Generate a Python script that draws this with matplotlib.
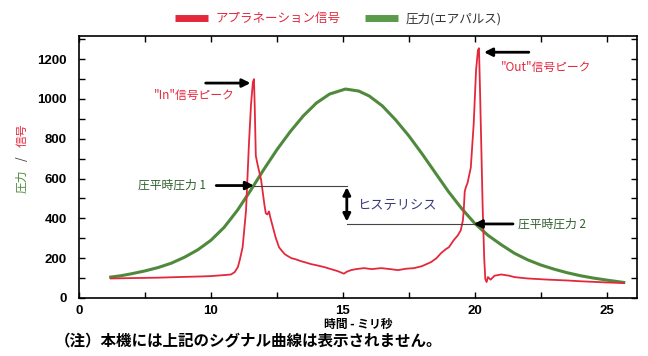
import matplotlib
matplotlib.use("Agg")
import matplotlib.pyplot as plt
from matplotlib.lines import Line2D
from matplotlib.ticker import MultipleLocator

plt.rcParams['font.family'] = ['Noto Sans CJK JP', 'DejaVu Sans']

# 圧力(エアパルス)
t_press = [6.2, 6.6, 7.0, 7.5, 8.0, 8.5, 9.0, 9.5, 10.0, 10.5, 11.0, 11.5, 12.0, 12.5,
           13.0, 13.5, 14.0, 14.5, 15.1, 15.6, 16.0, 16.5, 17.0, 17.5, 18.0, 18.5,
           19.0, 19.5, 20.0, 20.5, 21.0, 21.5, 22.0, 22.5, 23.0, 23.5, 24.0, 24.5,
           25.0, 25.65]
press = [105, 112, 122, 136, 153, 175, 205, 242, 290, 355, 440, 540, 645, 745,
         835, 915, 980, 1025, 1050, 1040, 1015, 965, 895, 815, 725, 630,
         535, 450, 375, 315, 268, 225, 192, 166, 145, 127, 112, 100,
         90, 78]

# アプラネーション信号
t_sig = [6.2, 7.0, 8.0, 9.0, 9.6, 10.0, 10.5, 10.76, 10.9, 11.02, 11.1, 11.2, 11.33,
         11.44, 11.52, 11.59, 11.63, 11.66, 11.7, 11.76, 11.82, 11.9, 11.97, 12.03,
         12.08, 12.14, 12.2, 12.25, 12.35, 12.45, 12.58, 12.7, 12.8, 12.92, 13.05,
         13.2, 13.41, 13.6, 13.8, 14.05, 14.3, 14.55, 14.8, 14.93, 15.04, 15.15,
         15.31, 15.5, 15.8, 16.1, 16.45, 16.8, 17.09, 17.4, 17.7, 18.0, 18.34,
         18.55, 18.72, 18.9, 19.02, 19.2, 19.36, 19.47, 19.55, 19.58, 19.62, 19.66,
         19.73, 19.85, 19.96, 20.05, 20.12, 20.16, 20.2, 20.3, 20.36, 20.4, 20.45,
         20.5, 20.6, 20.75, 21.0, 21.3, 21.5, 22.0, 22.8, 23.5, 24.0, 25.0, 25.65]
sig = [98, 100, 102, 106, 108, 110, 115, 118, 130, 155, 195, 255, 440,
       775, 975, 1085, 1100, 960, 715, 675, 640, 595, 525, 465,
       425, 420, 435, 405, 355, 305, 255, 235, 220, 210, 200,
       195, 185, 178, 170, 163, 155, 145, 135, 128, 122, 132,
       140, 145, 150, 145, 150, 145, 140, 147, 150, 160, 180,
       200, 225, 245, 255, 290, 315, 340, 390, 435, 535, 555,
       580, 655, 875, 1145, 1245, 1255, 1045, 455, 195, 95, 80,
       105, 92, 112, 118, 112, 105, 98, 92, 88, 84, 78, 75]

red = '#e4283c'
green = '#4f8a3c'

fig = plt.figure(figsize=(6.48, 3.56), dpi=100)
ax = fig.add_axes([0.122, 0.163, 0.861, 0.735])

ax.plot(t_press, press, color=green, lw=2.2)
ax.plot(t_sig, sig, color=red, lw=1.3)

ax.set_xlim(5.0, 26.15)
ax.set_ylim(0, 1315)
ax.set_xticks([5, 10, 15, 20, 25])
ax.set_xticklabels(['0', '10', '15', '20', '25'])
ax.xaxis.set_minor_locator(MultipleLocator(2.5))
ax.yaxis.set_major_locator(MultipleLocator(200))
ax.yaxis.set_minor_locator(MultipleLocator(100))
ax.tick_params(which='both', direction='in', top=True, right=True, length=4, width=1)
ax.tick_params(axis='x', pad=5)
ax.tick_params(axis='y', pad=9)
for lab in ax.get_xticklabels() + ax.get_yticklabels():
    lab.set_family('Liberation Sans')
    lab.set_fontweight('bold')
    lab.set_fontsize(9.5)
for s in ax.spines.values():
    s.set_linewidth(1.2)

ax.set_xlabel('時間 - ミリ秒', fontsize=8.5, fontweight='bold', labelpad=1)

# y label: 圧力 (green) / 信号 (red)
fig.text(0.034, 0.49, '圧力', rotation=90, color=green, fontsize=8.5, ha='center', va='center')
fig.text(0.034, 0.555, '/', rotation=90, color='#333333', fontsize=8.5, ha='center', va='center')
fig.text(0.034, 0.62, '信号', rotation=90, color=red, fontsize=8.5, ha='center', va='center')

# peak annotations
arrow = dict(arrowstyle='-|>', color='black', lw=2.0, mutation_scale=12, shrinkA=0, shrinkB=0)
ax.annotate('', xy=(11.5, 1080), xytext=(9.8, 1080), arrowprops=arrow)
ax.text(10.9, 1020, '"In"信号ピーク', color=red, fontsize=8.5, ha='right', va='center')
ax.annotate('', xy=(20.35, 1235), xytext=(22.05, 1235), arrowprops=arrow)
ax.text(21.0, 1160, '"Out"信号ピーク', color=red, fontsize=8.5, ha='left', va='center')

# hysteresis
p1, p2, xh = 565, 372, 15.15
ax.plot([11.65, xh], [p1, p1], color='#444444', lw=0.8)
ax.plot([xh, 19.96], [p2, p2], color='#444444', lw=0.8)
ax.annotate('', xy=(11.63, p1), xytext=(10.2, p1), arrowprops=arrow)
ax.text(9.8, p1, '圧平時圧力 1', color='#2f5f2f', fontsize=8.5, ha='right', va='center')
ax.annotate('', xy=(19.96, p2), xytext=(21.45, p2), arrowprops=arrow)
ax.text(21.65, p2, '圧平時圧力 2', color='#2f5f2f', fontsize=8.5, ha='left', va='center')
ax.annotate('', xy=(xh, p2 + 12), xytext=(xh, p1 - 8),
            arrowprops=dict(arrowstyle='<|-|>', color='black', lw=2.0, mutation_scale=11,
                            shrinkA=0, shrinkB=0))
ax.text(15.55, 465, 'ヒステリシス', color='#3b3b78', fontsize=9.5, ha='left', va='center')

# legend
handles = [Line2D([], [], color=red, lw=5, solid_capstyle='butt'),
           Line2D([], [], color='#5a9a4a', lw=5, solid_capstyle='butt')]
leg = fig.legend(handles, ['アプラネーション信号', '圧力(エアパルス)'], loc='center',
                 bbox_to_anchor=(0.522, 0.947), ncol=2, frameon=False, fontsize=9,
                 handlelength=2.6, handletextpad=0.6, columnspacing=2.0)
leg.get_texts()[0].set_color(red)
leg.get_texts()[1].set_color('#333333')

fig.text(0.085, 0.02, '（注）本機には上記のシグナル曲線は表示されません。', fontsize=11.2,
         fontweight='bold', ha='left', va='bottom')

fig.savefig('out.png', dpi=100)
